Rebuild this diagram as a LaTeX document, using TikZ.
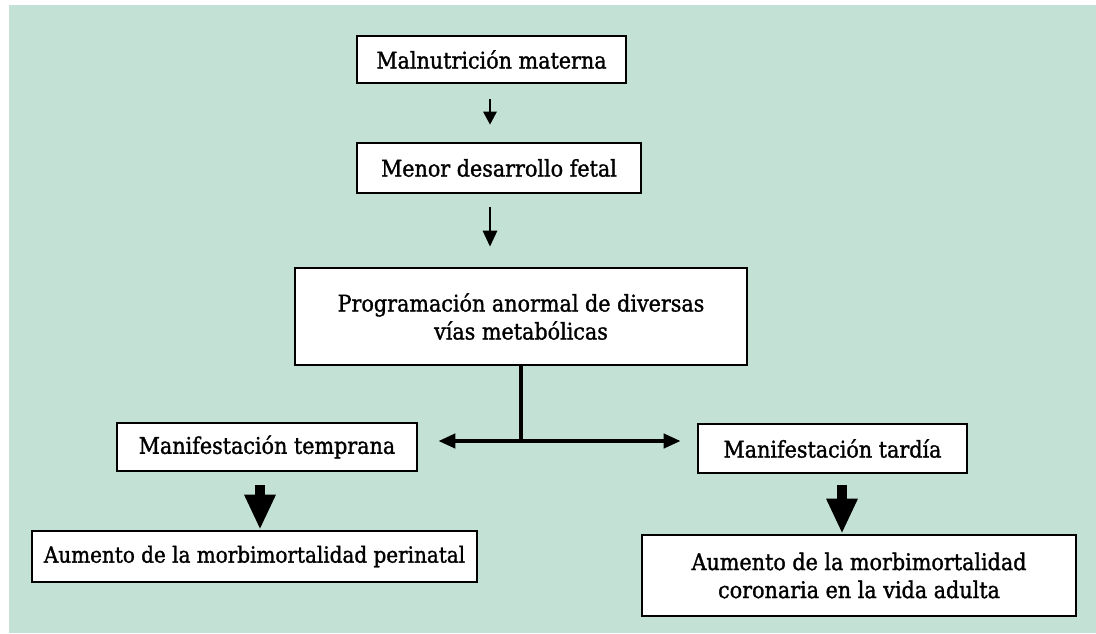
\documentclass[tikz,border=0pt]{standalone}
\usepackage{fontspec}
\setmainfont{DejaVu Serif Condensed}[FakeBold=1.3]
\usetikzlibrary{arrows.meta}
\definecolor{panel}{RGB}{195,226,213}
\tikzset{
  box/.style={draw=black, line width=2.6pt, fill=white, inner sep=0pt,
    align=center, font=\fontsize{23}{28}\selectfont},
  thin arrow/.style={line width=2.8pt, -{Triangle[width=13pt,length=13pt]}},
  mid arrow/.style={line width=2.8pt, -{Triangle[width=14pt,length=16pt]}},
  stem/.style={line width=4pt},
  twoway/.style={line width=4pt, {Triangle[width=14pt,length=17pt]}-{Triangle[width=14pt,length=17pt]}},
  fat arrow/.style={line width=10pt, -{Triangle[width=29pt,length=35pt]}}
}
\begin{document}
\begin{tikzpicture}[x=1pt,y=-1pt]
  \useasboundingbox (0,0) rectangle (1096,633);
  \fill[panel] (9,5) rectangle (1096,633);

  % boxes
  \node[box, minimum width=269pt, minimum height=47pt] (mal) at (491.5,59.5) {Malnutrición materna};
  \node[box, minimum width=284pt, minimum height=50pt] (menor) at (499,168) {Menor desarrollo fetal};
  \node[box, minimum width=452pt, minimum height=97pt] (prog) at (521,316.5) {Programación anormal de diversas\\vías metabólicas};
  \node[box, minimum width=300pt, minimum height=48pt] (temp) at (267,447) {Manifestación temprana};
  \node[box, minimum width=269pt, minimum height=49pt] (tard) at (832.5,448.5) {Manifestación tardía};
  \node[box, minimum width=445pt, minimum height=51pt, font=\fontsize{22.2}{28}\selectfont] (peri) at (254.5,556.5) {Aumento de la morbimortalidad perinatal};
  \node[box, minimum width=434pt, minimum height=81pt] (coro) at (859,575.5) {Aumento de la morbimortalidad\\coronaria en la vida adulta};

  % chain of causes
  \draw[thin arrow] ([xshift=-1.5pt,yshift=-15pt]mal.south) -- ([xshift=-1.5pt,yshift=17pt]mal.south |- menor.north);
  \draw[mid arrow] ([xshift=-9pt,yshift=-13pt]menor.south) -- ([xshift=-9pt,yshift=20pt]menor.south |- prog.north);

  % split into early and late manifestations
  \coordinate (fork) at (521,441);
  \draw[stem] (prog.south) -- (fork);
  \draw[twoway] ([xshift=20pt]temp.east |- fork) -- ([xshift=-16pt]tard.west |- fork);

  % consequences
  \draw[fat arrow] ([xshift=-7pt,yshift=-13pt]temp.south) -- ([xshift=5.5pt]peri.north);
  \draw[fat arrow] ([xshift=9.5pt,yshift=-11pt]tard.south) -- ([xshift=-17pt]coro.north);
\end{tikzpicture}
\end{document}
